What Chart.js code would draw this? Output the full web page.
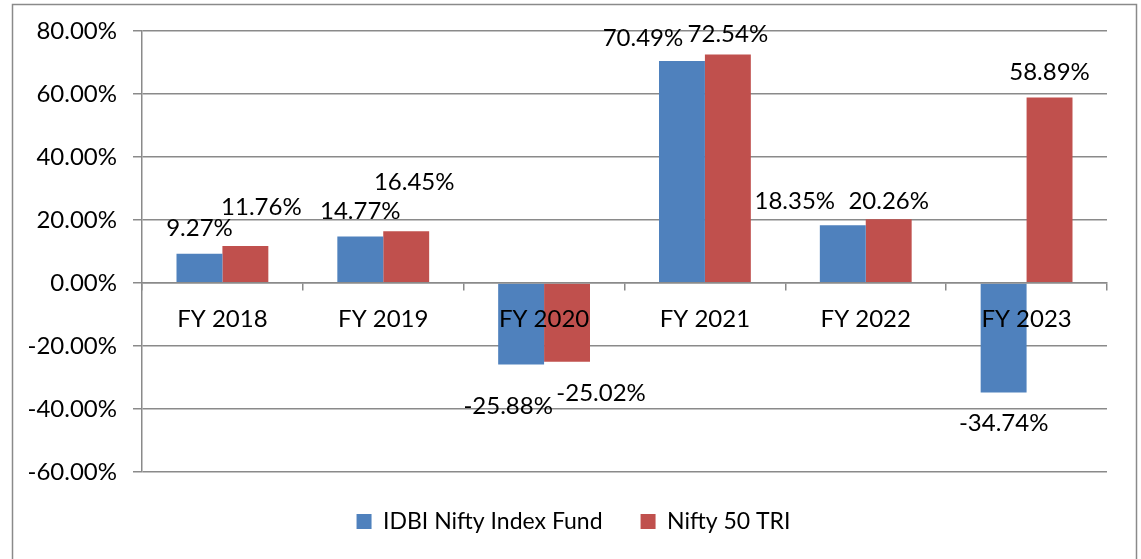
<!DOCTYPE html>
<html>
<head>
<meta charset="utf-8">
<script src="https://cdn.jsdelivr.net/npm/chart.js@4/dist/chart.umd.min.js"></script>
<style>
html,body{margin:0;padding:0;background:#fff;}
#wrap{width:1141px;height:559px;position:relative;}
</style>
</head>
<body>
<div id="wrap"><canvas id="c" width="1141" height="559"></canvas></div>
<script>
const categories = ['FY 2018','FY 2019','FY 2020','FY 2021','FY 2022','FY 2023'];
const fundValues = [9.27, 14.77, -25.88, 70.49, 18.35, -34.74];
const indexValues = [11.76, 16.45, -25.02, 72.54, 20.26, 58.89];
const seriesNames = ['IDBI Nifty Index Fund', 'Nifty 50 TRI'];
const yTicks = [-60, -40, -20, 0, 20, 40, 60, 80];

const FONT = 'Lato, "Open Sans", sans-serif';
const FS = 24;
const GRID = '#8a8a8a';

// label shifts (px) relative to the bar end, per dataset
const labelShift = [
  [[0,-26],[0,-25],[-13,42],[-39,-23],[-48,-24],[0,31]],
  [[16,-39],[8,-49],[34,31],[0,-20],[0,-18],[0,-25]]
];

const frame = {
  id: 'frame',
  beforeDraw(chart) {
    const c = chart.ctx;
    c.save();
    c.fillStyle = '#fff';
    c.fillRect(0, 0, chart.width, chart.height);
    c.strokeStyle = GRID;
    c.lineWidth = 1.5;
    c.strokeRect(12.5, 4.5, 1124, 600);
    c.restore();
  }
};

const legendShift = {
  id: 'legendShift',
  afterLayout(chart) {
    if (chart.legend) { chart.legend.left += 14; chart.legend.right += 14; }
  }
};

const valueLabels = {
  id: 'valueLabels',
  afterDatasetsDraw(chart) {
    const c = chart.ctx;
    c.save();
    c.font = FS + 'px ' + FONT;
    c.fillStyle = '#000';
    c.textAlign = 'center';
    c.textBaseline = 'middle';
    chart.data.datasets.forEach((ds, di) => {
      chart.getDatasetMeta(di).data.forEach((bar, i) => {
        const s = labelShift[di][i];
        c.fillText(ds.data[i].toFixed(2) + '%', bar.x + s[0], bar.y + s[1]);
      });
    });
    c.restore();
  }
};

new Chart(document.getElementById('c'), {
  type: 'bar',
  data: {
    labels: categories,
    datasets: [
      { label: seriesNames[0], data: fundValues, backgroundColor: '#4F81BD', borderWidth: 0 },
      { label: seriesNames[1], data: indexValues, backgroundColor: '#C0504D', borderWidth: 0 }
    ]
  },
  options: {
    responsive: false,
    animation: false,
    events: [],
    layout: { padding: { left: 12, right: 34, top: 31, bottom: 16 } },
    categoryPercentage: 0.571,
    barPercentage: 1.0,
    plugins: {
      legend: {
        position: 'bottom',
        labels: {
          font: { family: FONT, size: 23 },
          color: '#000',
          boxWidth: 15,
          boxHeight: 15,
          padding: 38
        }
      },
      tooltip: { enabled: false },
      title: { display: false }
    },
    scales: {
      x: {
        position: { y: 0 },
        offset: true,
        grid: { display: true, drawOnChartArea: false, drawTicks: true, tickLength: 7, color: GRID, offset: true, lineWidth: 1.5 },
        border: { display: true, color: GRID, width: 1.5, z: 1 },
        ticks: { font: { family: FONT, size: FS }, color: '#000', padding: 15, z: 1 }
      },
      y: {
        min: -60, max: 80,
        afterBuildTicks(scale) { scale.ticks = yTicks.map(v => ({ value: v })); },
        afterFit(scale) { scale.width = 130; },
        grid: { color: GRID, lineWidth: 1.5, tickLength: 9 },
        border: { display: true, color: GRID, width: 1.5 },
        ticks: {
          font: { family: FONT, size: FS }, color: '#000', padding: 16,
          callback: v => v.toFixed(2) + '%'
        }
      }
    }
  },
  plugins: [frame, legendShift, valueLabels]
});
</script>
</body>
</html>
